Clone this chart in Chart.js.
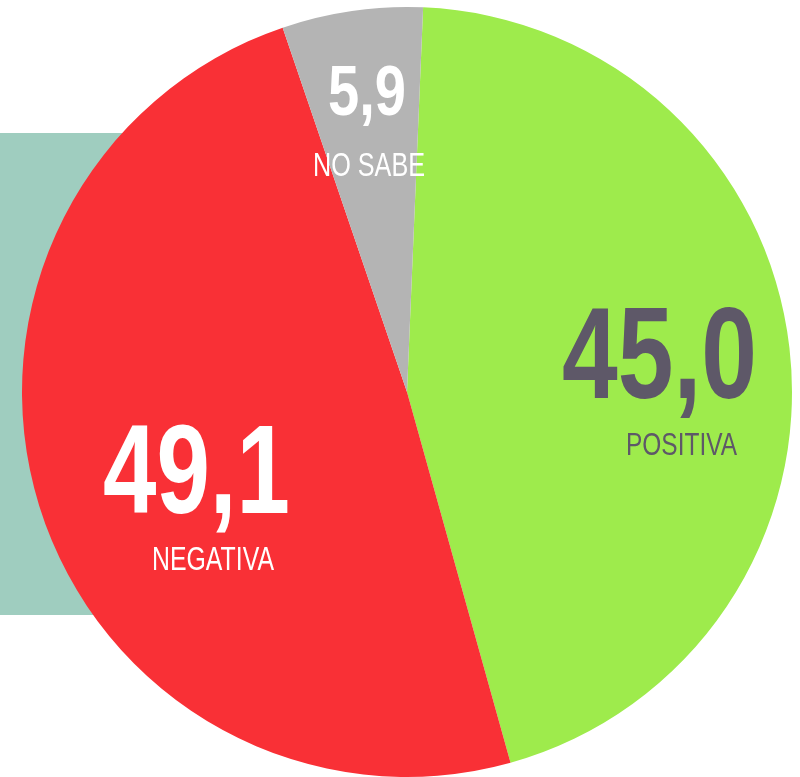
<!DOCTYPE html>
<html>
<head>
<meta charset="utf-8">
<script src="https://cdn.jsdelivr.net/npm/chart.js@4/dist/chart.umd.min.js"></script>
<style>
  html, body { margin: 0; padding: 0; background: #ffffff; }
  #wrap { position: relative; width: 800px; height: 777px; overflow: hidden; }
  #band { position: absolute; left: 0; top: 133px; width: 220px; height: 482px; background: #9fcdbf; }
  #c { position: absolute; left: 0; top: 0; }
</style>
</head>
<body>
<div id="wrap">
  <div id="band"></div>
  <canvas id="c" width="800" height="777"></canvas>
</div>
<script>
const categories = ["POSITIVA", "NEGATIVA", "NO SABE"];
const values = [45.0, 49.1, 5.9];
const valueLabels = ["45,0", "49,1", "5,9"];

const sliceColors = ["#9eeb4c", "#f93036", "#b4b4b4"];
const labelStyles = [
  { color: "#5e5868",
    big: { dx: 252.5, dy: 6, size: 130, w: 195 },
    small: { dx: 274.5, dy: 63, size: 31, w: 111 } },
  { color: "#ffffff",
    big: { dx: -210.5, dy: 121, size: 126, w: 187 },
    small: { dx: -194, dy: 178, size: 33, w: 122 } },
  { color: "#ffffff",
    big: { dx: -40, dy: -277, size: 70, w: 78 },
    small: { dx: -38, dy: -216, size: 33, w: 112 } }
];
const FONT = "'Liberation Sans', Arial, sans-serif";

function drawFitted(ctx, text, x, y, font, width) {
  ctx.save();
  ctx.font = font;
  const m = ctx.measureText(text).width;
  ctx.translate(x, y);
  ctx.scale(width / m, 1);
  ctx.fillText(text, 0, 0);
  ctx.restore();
}

const labelPlugin = {
  id: "sliceLabels",
  afterDatasetsDraw(chart) {
    const ctx = chart.ctx;
    const meta = chart.getDatasetMeta(0);
    const arc = meta.data[0];
    const cx = arc.x, cy = arc.y;
    ctx.save();
    ctx.textAlign = "center";
    ctx.textBaseline = "alphabetic";
    meta.data.forEach((el, i) => {
      const s = labelStyles[i];
      ctx.fillStyle = s.color;
      drawFitted(ctx, valueLabels[i], cx + s.big.dx, cy + s.big.dy,
        "bold " + s.big.size + "px " + FONT, s.big.w);
      drawFitted(ctx, categories[i], cx + s.small.dx, cy + s.small.dy,
        "normal " + s.small.size + "px " + FONT, s.small.w);
    });
    ctx.restore();
  }
};

new Chart(document.getElementById("c"), {
  type: "pie",
  data: {
    labels: categories,
    datasets: [{
      data: values,
      backgroundColor: sliceColors,
      borderWidth: 0,
      hoverOffset: 0
    }]
  },
  options: {
    responsive: false,
    animation: false,
    rotation: 2.4,
    layout: { padding: { left: 22, right: 8, top: 7, bottom: 0 } },
    plugins: {
      legend: { display: false },
      tooltip: { enabled: false }
    }
  },
  plugins: [labelPlugin]
});
</script>
</body>
</html>
